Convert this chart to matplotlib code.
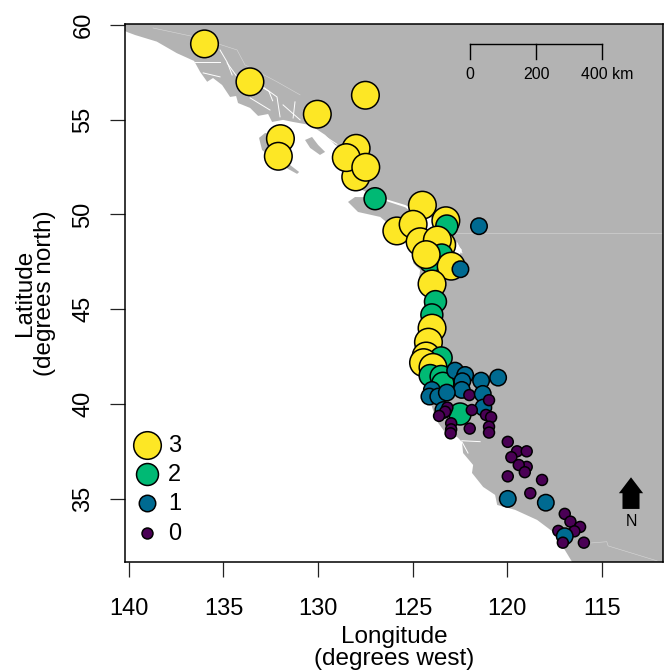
"""
Map of sites on the west coast of North America, sized and coloured by level.
"""
import matplotlib
matplotlib.use('Agg')
import matplotlib.pyplot as plt

plt.rcParams['font.family'] = ['Liberation Sans', 'DejaVu Sans']

# sites, in drawing order
site_lon = [136.0, 133.6, 130.04, 127.5, 131.99, 132.1, 127.99, 128.01, 128.51, 127.48, 126.99,
            124.49, 123.25, 123.2, 121.5, 125.84, 124.98, 124.61, 123.47, 123.7, 123.47, 124.08,
            122.97, 122.48, 124.29, 123.98, 123.8, 123.99, 123.98, 124.17, 124.29, 123.5,
            124.43, 123.93, 124.08, 123.5, 123.41, 122.76, 122.23, 122.38, 121.39, 120.49,
            122.41, 123.99, 124.12, 123.65, 123.2, 122.01, 121.3, 121.27, 120.97, 122.5,
            121.88, 123.38, 123.17, 123.29, 123.61, 121.13, 120.86, 122.97, 122.97, 123.0,
            121.99, 120.97, 120.97, 119.98, 119.49, 118.98, 119.79, 118.98, 119.4, 119.08,
            119.98, 118.17, 118.79, 119.98, 117.97, 116.97, 116.67, 116.16, 116.46, 117.31,
            116.97, 117.07, 115.96]
site_lat = [59.0, 57.0, 55.29, 56.29, 54.0, 53.07, 53.49, 51.98, 53.0, 52.49, 50.83,
            50.49, 49.67, 49.39, 49.38, 49.13, 49.48, 48.56, 48.39, 48.65, 47.86, 47.51,
            47.27, 47.11, 47.88, 46.33, 45.4, 44.7, 44.0, 43.26, 42.53, 42.43,
            42.18, 41.93, 41.5, 41.45, 41.09, 41.76, 41.53, 41.2, 41.23, 41.39,
            40.74, 40.74, 40.39, 40.39, 40.6, 40.47, 40.53, 39.81, 40.2, 39.47,
            39.68, 39.68, 39.81, 39.59, 39.37, 39.42, 39.3, 38.98, 38.66, 38.45,
            38.7, 38.8, 38.49, 38.0, 37.5, 37.5, 37.19, 36.68, 36.78, 36.4,
            36.18, 35.99, 35.29, 34.99, 34.79, 34.2, 33.79, 33.51, 33.28, 33.3,
            33.02, 32.68, 32.68]
site_level = [3, 3, 3, 3, 3, 3, 3, 3, 3, 3, 2,
              3, 3, 2, 1, 3, 3, 3, 3, 3, 2, 2,
              3, 1, 3, 3, 2, 2, 3, 3, 3, 2,
              3, 3, 2, 2, 2, 1, 1, 1, 1, 1,
              1, 1, 1, 1, 1, 0, 1, 1, 0, 2,
              0, 1, 0, 0, 0, 0, 0, 0, 0, 0,
              0, 0, 0, 0, 0, 0, 0, 0, 0, 0,
              0, 0, 0, 1, 1, 0, 0, 0, 0, 0,
              1, 0, 0]

levels = [3, 2, 1, 0]
level_color = {3: '#FDE725', 2: '#00B974', 1: '#006A91', 0: '#4A0055'}
level_size = {3: 395, 2: 250, 1: 140, 0: 62}

# land outlines
coast_lon = [140.4, 140.4, 140.1, 139.67, 138.52, 137.46, 136.55, 136.23, 135.86, 135.55, 135.07,
             134.65, 134.33, 134.23, 133.59, 133.17, 132.64, 132.43, 131.85, 131.32, 130.42,
             129.63, 129.1,
             128.57, 128.31, 127.67, 127.15, 125.4, 123.55, 122.92, 122.4, 122.6, 123.29,
             124.08, 124.82, 124.98, 124.61, 124.72, 124.35, 124.51, 124.88, 124.93, 124.35,
             123.93, 123.66, 123.19, 122.66, 122.4, 122.34, 121.81, 121.87, 121.28, 120.65,
             120.54, 119.59, 118.43, 117.59, 117.06, 116.58, 116.58, 111.5, 111.5]
coast_lat = [60.5, 59.8, 59.63, 59.47, 59.12, 58.51, 58.1, 57.52, 57.0, 57.2, 56.83,
             56.2, 56.25, 55.88, 55.62, 55.2, 55.3, 54.88, 54.99, 54.88, 54.72,
             54.2, 53.67,
             53.4, 52.35, 51.29, 51.03, 50.5, 49.6, 48.76, 48.13, 47.7, 48.39,
             48.5, 48.13, 47.44, 47.07, 46.17, 45.65, 44.43, 43.38, 42.32, 41.0,
             39.68, 39.0, 38.36, 38.26, 38.0, 37.41, 36.78, 36.36, 35.62, 35.2,
             34.67, 34.41, 33.88, 33.25, 32.45, 31.66, 31.4, 31.4, 60.5]
haida_lon = [133.12, 132.96, 132.27, 131.58, 131.11, 131.0, 131.48, 131.74, 132.27, 132.8]
haida_lat = [54.04, 53.4, 52.88, 52.4, 52.14, 52.24, 52.61, 53.4, 54.2, 54.3]
banks_lon = [130.69, 130.32, 130.0, 129.63, 129.9, 130.42]
banks_lat = [53.93, 54.09, 53.67, 53.3, 53.14, 53.51]
vancouver_lon = [128.42, 127.89, 126.72, 125.77, 124.98, 124.08, 124.35, 125.4, 126.99, 128.05]
vancouver_lat = [50.66, 50.13, 49.87, 49.08, 48.65, 48.65, 49.6, 50.38, 50.9, 50.92]

# inlets cut into the land, (lon list, lat list)
inlets = [([135.18, 134.81, 134.54], [58.68, 58.05, 57.36]),
          ([136.5, 135.18], [58.05, 58.05]),
          ([136.07, 135.18], [57.47, 57.26]),
          ([134.81, 134.23, 133.59], [58.0, 57.2, 56.68]),
          ([132.91, 132.17, 132.01], [56.73, 56.2, 55.15]),
          ([133.59, 132.54], [56.15, 55.51]),
          ([131.85, 130.95], [55.78, 54.99]),
          ([131.22, 131.32], [55.94, 55.09]),
          ([133.3, 132.6, 132.4], [56.9, 56.5, 56.0]),
          ([130.7, 129.9, 129.0], [54.6, 54.3, 53.7]),
          ([122.66, 122.4], [48.5, 47.97]),
          ([122.41, 121.44], [38.06, 38.01]),
          ([122.4, 122.08], [38.0, 37.41])]

# borders
borders = [([138.72, 136.23, 134.28, 133.86, 132.17, 130.95], [59.84, 59.31, 58.68, 57.89, 57.0, 56.31]),
           ([122.8, 111.5], [49.0, 49.0]),
           ([115.63, 114.75, 114.68, 112.09], [32.66, 32.73, 32.51, 31.72])]

scale_ticks_lon = [121.97, 118.48, 115.0]
scale_labels = ['0', '200', '400 km']
x_ticks = [140, 135, 130, 125, 120, 115]
y_ticks = [35, 40, 45, 50, 55, 60]

LAND = '#B3B3B3'

fig = plt.figure(figsize=(6.69, 6.71), dpi=100)
ax = fig.add_axes([125 / 669, (671 - 562) / 671, 538 / 669, 538 / 671])

# land
for lons, lats in [(coast_lon, coast_lat), (haida_lon, haida_lat),
                   (banks_lon, banks_lat), (vancouver_lon, vancouver_lat)]:
    ax.fill(lons, lats, color=LAND, lw=0, zorder=1)
for lons, lats in inlets:
    ax.plot(lons, lats, color='white', lw=0.7, zorder=2)
for lons, lats in borders:
    ax.plot(lons, lats, color='#D8D8D8', lw=0.4, zorder=2)

# sites
ax.scatter(site_lon, site_lat,
           s=[level_size[l] for l in site_level],
           c=[level_color[l] for l in site_level],
           edgecolors='black', linewidths=1.1, zorder=3)

ax.set_xlim(140.2, 111.78)
ax.set_ylim(31.66, 60.05)
ax.set_xticks(x_ticks)
ax.set_yticks(y_ticks)
ax.tick_params(axis='x', length=11, width=0.9, labelsize=17, pad=15, color='#222222')
ax.tick_params(axis='y', length=11, width=0.9, labelsize=17, pad=11, color='#222222')
for lab in ax.get_yticklabels():
    lab.set_rotation(90)
    lab.set_va('center')
for spine in ax.spines.values():
    spine.set_linewidth(1.1)
    spine.set_zorder(5)

ax.set_xlabel('Longitude\n(degrees west)', fontsize=17.5, labelpad=4.5, linespacing=0.98)
ax.set_ylabel('Latitude\n(degrees north)', fontsize=17.5, labelpad=11.5, linespacing=0.92)

# legend
legend_y = [0.2175, 0.1636, 0.1097, 0.0539]
for lev, y in zip(levels, legend_y):
    ax.scatter([0.041], [y], s=level_size[lev], c=level_color[lev], edgecolors='black',
               linewidths=1.1, transform=ax.transAxes, zorder=6)
    ax.text(0.08, y - 0.001, str(lev), fontsize=17, va='center', ha='left',
            transform=ax.transAxes, zorder=6)

# scale bar
ax.plot([scale_ticks_lon[0], scale_ticks_lon[-1]], [59.0, 59.0], color='black', lw=1.0, zorder=4)
for lon, lab in zip(scale_ticks_lon, scale_labels):
    ax.plot([lon, lon], [59.0, 58.2], color='black', lw=1.0, zorder=4)
    if lab == '400 km':
        ax.text(lon + 1.1, 57.36, lab, fontsize=11.4, va='center', ha='left', zorder=4)
    else:
        ax.text(lon, 57.36, lab, fontsize=11.4, va='center', ha='center', zorder=4)

# north arrow
ax.arrow(113.47, 34.46, 0, 1.67, width=0.9, head_width=1.28, head_length=0.84,
         length_includes_head=True, color='black', lw=0, zorder=4)
ax.text(113.47, 33.8, 'N', fontsize=11.4, va='center', ha='center', zorder=4)

plt.savefig('out.png', dpi=100)
plt.close()
